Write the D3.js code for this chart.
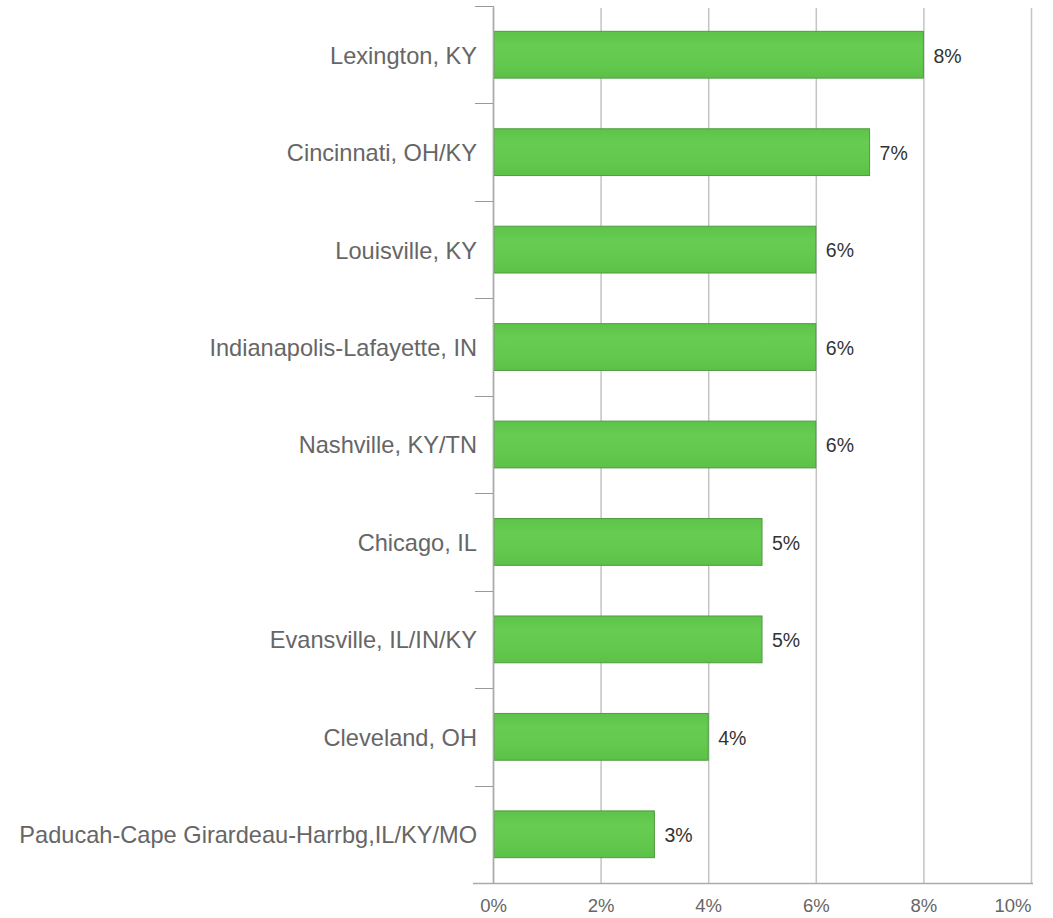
<!DOCTYPE html>
<html>
<head>
<meta charset="utf-8">
<script src="https://cdn.jsdelivr.net/npm/d3@7"></script>
<style>
  html, body { margin: 0; padding: 0; background: #fff; }
  svg { display: block; }
</style>
</head>
<body>
<svg id="chart" width="1053" height="918"></svg>
<script>
// Share of visitors by metro area
const markets = [
  "Lexington, KY",
  "Cincinnati, OH/KY",
  "Louisville, KY",
  "Indianapolis-Lafayette, IN",
  "Nashville, KY/TN",
  "Chicago, IL",
  "Evansville, IL/IN/KY",
  "Cleveland, OH",
  "Paducah-Cape Girardeau-Harrbg,IL/KY/MO"
];
const shares = [8, 7, 6, 6, 6, 5, 5, 4, 3];
const xTicks = [0, 2, 4, 6, 8, 10];

const svg = d3.select("#chart");
const margin = { top: 6, right: 22, bottom: 35, left: 493 };
const width = 1053 - margin.left - margin.right;
const height = 918 - margin.top - margin.bottom;
const font = "Liberation Sans, Arial, sans-serif";

const g = svg.append("g").attr("transform", `translate(${margin.left},${margin.top})`);

const x = d3.scaleLinear().domain([0, 10]).range([0, width]);
const y = d3.scaleBand().domain(markets).range([0, height]).paddingInner(0.52).paddingOuter(0.26);

// vertical gridlines
g.append("g")
  .selectAll("line")
  .data(xTicks)
  .join("line")
  .attr("x1", d => x(d) + 0.5)
  .attr("x2", d => x(d) + 0.5)
  .attr("y1", 2)
  .attr("y2", height)
  .attr("stroke", "#c4c4c4")
  .attr("stroke-width", 1.5);

// bars
const defs = svg.append("defs");
const grad = defs.append("linearGradient").attr("id", "barFill").attr("x1", 0).attr("y1", 0).attr("x2", 0).attr("y2", 1);
grad.append("stop").attr("offset", "0%").attr("stop-color", "#5cc448");
grad.append("stop").attr("offset", "30%").attr("stop-color", "#66cc52");
grad.append("stop").attr("offset", "70%").attr("stop-color", "#62c94e");
grad.append("stop").attr("offset", "100%").attr("stop-color", "#5bc247");

g.append("g")
  .selectAll("rect")
  .data(markets)
  .join("rect")
  .attr("x", x(0) + 1)
  .attr("y", d => y(d))
  .attr("width", (d, i) => x(shares[i]) - x(0) - 1)
  .attr("height", y.bandwidth())
  .attr("fill", "url(#barFill)")
  .attr("stroke", "#4f9a3e")
  .attr("stroke-width", 1);

// value labels
g.append("g")
  .selectAll("text")
  .data(markets)
  .join("text")
  .attr("x", (d, i) => x(shares[i]) + 10)
  .attr("y", d => y(d) + y.bandwidth() / 2 + 1)
  .attr("dy", "0.35em")
  .attr("font-family", font)
  .attr("font-size", 19.5)
  .attr("fill", "#333")
  .text((d, i) => shares[i] + "%");

// category axis
const yAxis = g.append("g")
  .call(d3.axisLeft(y).tickSize(0).tickPadding(16));
yAxis.select(".domain").remove();
yAxis.selectAll("text")
  .attr("font-family", font)
  .attr("font-size", 23.6)
  .attr("dy", "0.38em")
  .attr("fill", "#666");

// band boundary ticks on the left axis
const bounds = markets.map(d => y(d) - y.step() * y.paddingInner() / 2);
bounds.push(height);
bounds[0] = 0;
g.append("g")
  .selectAll("line")
  .data(bounds)
  .join("line")
  .attr("x1", -18)
  .attr("x2", 0)
  .attr("y1", d => Math.round(d) + 0.5)
  .attr("y2", d => Math.round(d) + 0.5)
  .attr("stroke", "#999")
  .attr("stroke-width", 1);

g.append("line")
  .attr("x1", 0.5).attr("x2", 0.5)
  .attr("y1", 0).attr("y2", height)
  .attr("stroke", "#aaa").attr("stroke-width", 1.5);

// value axis
const xAxis = g.append("g")
  .attr("transform", `translate(0,${height})`)
  .call(d3.axisBottom(x).tickValues(xTicks).tickFormat(d => d + "%").tickSize(0).tickPadding(16));
xAxis.select(".domain").remove();
xAxis.selectAll("text")
  .attr("font-family", font)
  .attr("font-size", 18.5)
  .attr("fill", "#666")
  .attr("text-anchor", d => d === 10 ? "end" : "middle");

g.append("line")
  .attr("x1", -20).attr("x2", width + 2)
  .attr("y1", height + 0.5).attr("y2", height + 0.5)
  .attr("stroke", "#aaa").attr("stroke-width", 1.5);
</script>
</body>
</html>
